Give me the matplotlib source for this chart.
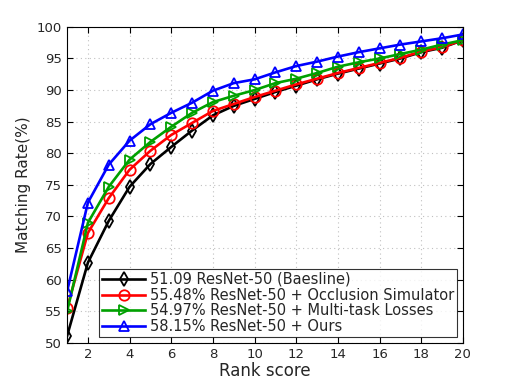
import matplotlib
matplotlib.use("Agg")
import matplotlib.pyplot as plt

# rank 1..20
ranks = list(range(1, 21))

baseline = [51.09, 62.7, 69.3, 74.7, 78.3, 81.0, 83.6, 86.0, 87.5, 88.6,
            89.7, 90.7, 91.7, 92.6, 93.4, 94.2, 95.0, 96.0, 96.7, 97.9]
occlusion = [55.48, 67.4, 72.9, 77.4, 80.4, 82.9, 84.8, 86.7, 87.8, 88.9,
             89.9, 90.9, 91.8, 92.7, 93.5, 94.3, 95.1, 96.1, 96.8, 97.9]
multitask = [54.97, 69.0, 74.7, 79.0, 81.8, 84.2, 86.4, 88.1, 89.1, 90.0,
             91.1, 91.8, 92.7, 93.7, 94.4, 95.0, 95.7, 96.4, 97.2, 97.9]
ours = [58.15, 72.2, 78.2, 82.0, 84.6, 86.4, 88.0, 89.9, 91.1, 91.7,
        92.8, 93.8, 94.5, 95.3, 96.0, 96.6, 97.2, 97.7, 98.2, 98.8]

labels = ["51.09 ResNet-50 (Baesline)",
          "55.48% ResNet-50 + Occlusion Simulator",
          "54.97% ResNet-50 + Multi-task Losses",
          "58.15% ResNet-50 + Ours"]

txt = "#262626"
plt.rcParams['font.family'] = ['DejaVu Sans']

fig = plt.figure(figsize=(5.12, 3.84), dpi=100)
ax = fig.add_axes([0.131, 0.107, 0.773, 0.823])

style = dict(mfc='none', ms=7.5, lw=1.9, mew=1.3)
ax.plot(ranks, baseline, color='black', marker='d', label=labels[0], **style)
ax.plot(ranks, occlusion, color='#ff0000', marker='o', label=labels[1], **style)
ax.plot(ranks, multitask, color='#00a000', marker='>', label=labels[2], **style)
ax.plot(ranks, ours, color='#0000ff', marker='^', label=labels[3], **style)

ax.set_xlim(1, 20)
ax.set_ylim(50, 100)
ax.set_xticks(range(2, 21, 2))
ax.set_yticks(range(50, 101, 5))
ax.tick_params(direction='in', top=True, right=True, labelsize=9.5, labelcolor=txt, length=4)
ax.grid(True, linestyle=(0, (1, 3)), color='#c0c0c0', linewidth=0.8)
ax.set_axisbelow(True)
ax.set_xlabel("Rank score", fontsize=12, color=txt, labelpad=1)
ax.set_ylabel("Matching Rate(%)", fontsize=11, color=txt, labelpad=4)

leg = ax.legend(loc='lower right', fontsize=10.5, handlelength=3, frameon=True, fancybox=False,
                borderpad=0.2, labelspacing=0.05, handletextpad=0.3, borderaxespad=0.4)
leg.get_frame().set_edgecolor('black')
leg.get_frame().set_linewidth(0.8)
for t in leg.get_texts():
    t.set_color(txt)

plt.savefig("out.png", dpi=100)
